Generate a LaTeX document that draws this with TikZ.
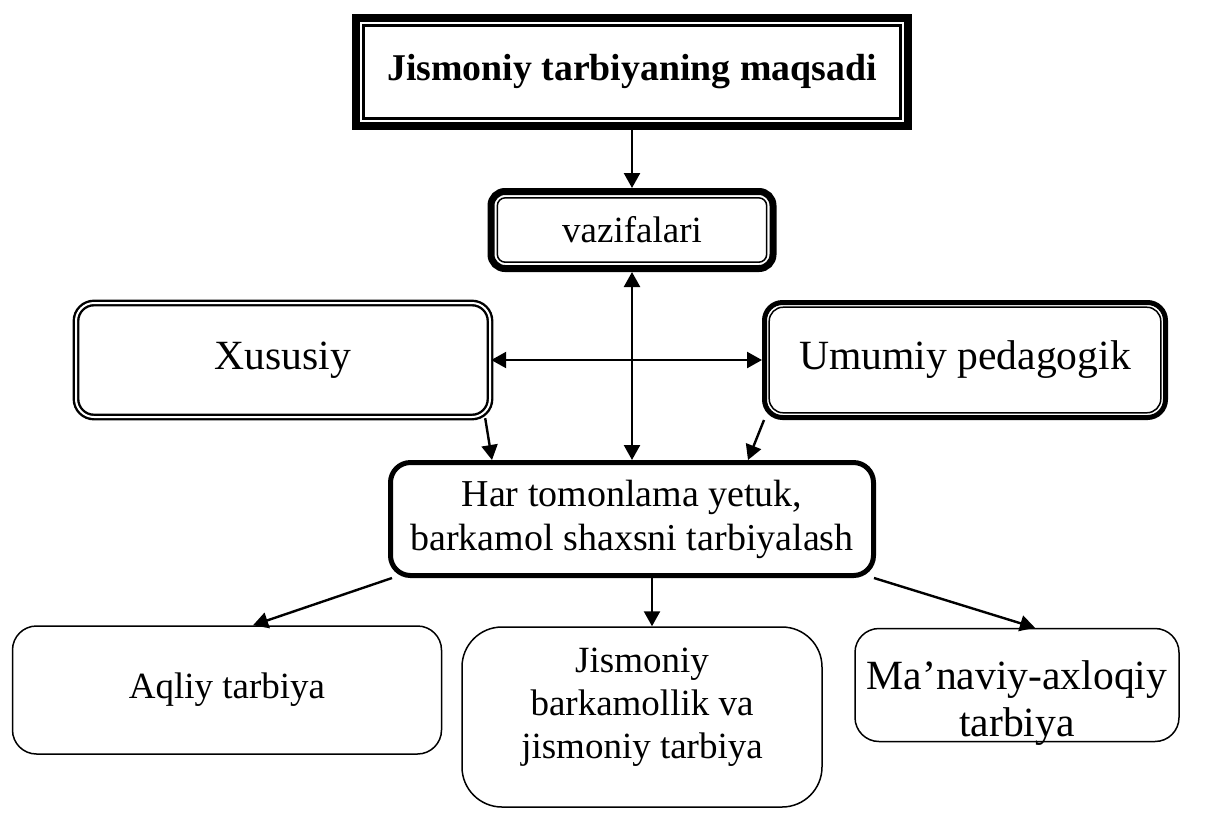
\documentclass[tikz,border=0pt]{standalone}
\usepackage{fontspec}
\setmainfont{Liberation Serif}
\usetikzlibrary{arrows.meta}
\begin{document}
\begin{tikzpicture}[x=0.5pt,y=-0.5pt,>={Triangle[length=7.5pt,width=8pt]},
  box/.style={draw,align=center,inner sep=0pt,font=\fontsize{18.5}{21.5}\selectfont},
  big/.style={font=\fontsize{20.8}{23.5}\selectfont},
  txt/.style={align=center,inner sep=0pt,font=\fontsize{18.5}{21.5}\selectfont},
  arr/.style={line width=1.2pt}]
\useasboundingbox (0,0) rectangle (1211,816);
% top
\node[box,line width=4pt,minimum width=276pt,minimum height=54pt,font=\fontsize{18.9}{22}\selectfont\bfseries] (goal) at (632,72) {Jismoniy tarbiyaning maqsadi};
\draw[line width=1.5pt] ([xshift=5.75pt,yshift=-5.75pt]goal.north west) rectangle ([xshift=-5.75pt,yshift=5.75pt]goal.south east);
\node[box,line width=3.5pt,rounded corners=7pt,minimum width=141pt,minimum height=38.5pt] (vaz) at (632,230) {vazifalari};
\draw[line width=0.75pt,rounded corners=4pt] ([xshift=4.9pt,yshift=-4.9pt]vaz.north west) rectangle ([xshift=-4.9pt,yshift=4.9pt]vaz.south east);
% middle
\node[box,big,line width=1.2pt,double,double distance=1pt,rounded corners=9pt,minimum width=207pt,minimum height=57pt] (xus) at (283,360) {Xususiy};
\node[box,big,line width=2.5pt,rounded corners=9pt,minimum width=200.5pt,minimum height=57.5pt] (umu) at (965,360) {Umumiy pedagogik};
\draw[line width=0.75pt,rounded corners=7pt] ([xshift=3.6pt,yshift=-3.6pt]umu.north west) rectangle ([xshift=-3.6pt,yshift=3.6pt]umu.south east);
\node[box,line width=2.5pt,rounded corners=10pt,minimum width=241.5pt,minimum height=56.5pt,font=\fontsize{19}{22}\selectfont] (har) at (632,519) {Har tomonlama yetuk,\\ barkamol shaxsni tarbiyalash};
% bottom
\node[box,line width=0.75pt,rounded corners=12pt,minimum width=214.5pt,minimum height=64pt] (aql) at (227,690) {Aqliy tarbiya};
\node[box,line width=0.75pt,rounded corners=20pt,minimum width=180pt,minimum height=90pt] (jis) at (642,717) {};
\node[txt] (jistxt) at ([yshift=5pt]jis.center) {Jismoniy\\ barkamollik va\\ jismoniy tarbiya};
\node[box,line width=0.75pt,rounded corners=12pt,minimum width=162pt,minimum height=56.5pt] (man) at (1017,685) {};
\node[txt,big] (mantxt) at ([yshift=-9pt]man.center) {Ma’naviy-axloqiy\\ tarbiya};

\draw[arr,->] (goal) -- (vaz);
\draw[arr,<->] (vaz) -- (har);
\draw[arr,<->] (xus) -- (umu);
\draw[arr,->] ([xshift=-3pt]xus.south east) -- ([xshift=52pt]har.north west);
\draw[arr,->] ([xshift=1pt]umu.south west) -- ([xshift=-64pt]har.north east);
\draw[arr,->] ([xshift=2pt]har.south west) -- ([xshift=13pt]aql.north);
\draw[arr,->] ([xshift=5pt]jis.north |- har.south) -- ([xshift=5pt]jis.north);
\draw[arr,->] ([xshift=-1pt]har.south east) -- ([xshift=9pt]man.north);

\end{tikzpicture}
\end{document}
